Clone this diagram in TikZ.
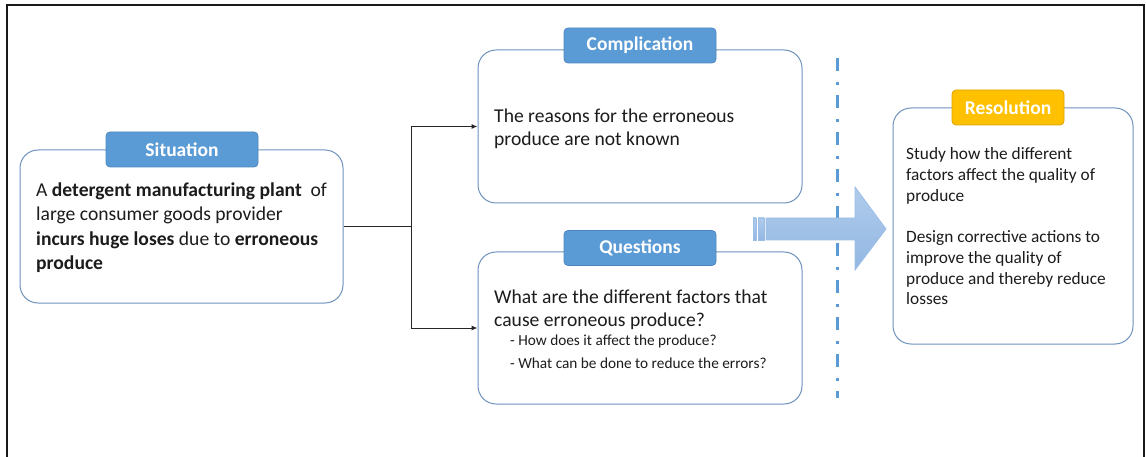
\documentclass[tikz,border=0pt]{standalone}
\usepackage{fontspec}
\setmainfont{Carlito}
\usetikzlibrary{arrows.meta,calc}

\definecolor{panelline}{HTML}{6E93BF}
\definecolor{tagblue}{HTML}{5B9BD5}
\definecolor{tagblueline}{HTML}{4F88C0}
\definecolor{taggold}{HTML}{FFC000}
\definecolor{taggoldline}{HTML}{D9A400}
\definecolor{sepblue}{HTML}{5B9BD5}
\definecolor{arrowtop}{HTML}{B0CCEC}
\definecolor{arrowbot}{HTML}{92B7E3}
\definecolor{arrowline}{HTML}{9CBEE6}
\definecolor{bodytext}{HTML}{1C1C1C}

\begin{document}
\begin{tikzpicture}[x=1pt,y=-1pt,
  panel/.style={draw=panelline, line width=1pt, rounded corners=18pt, fill=white,
    rectangle, inner sep=0pt},
  tag/.style={draw=tagblueline, line width=0.8pt, fill=tagblue, rounded corners=4pt,
    text=white, font=\fontsize{19.5}{22}\selectfont\bfseries,
    minimum width=152pt, minimum height=35pt, inner sep=0pt},
  goldtag/.style={tag, draw=taggoldline, fill=taggold, minimum width=112pt},
  bigtext/.style={anchor=north west, inner sep=0pt, align=left, text=bodytext,
    font=\fontsize{19.6}{24.3}\selectfont},
  midtext/.style={anchor=north west, inner sep=0pt, align=left, text=bodytext,
    font=\fontsize{19.6}{22.6}\selectfont},
  smalltext/.style={anchor=north west, inner sep=0pt, align=left, text=bodytext,
    font=\fontsize{15.3}{23}\selectfont},
  restext/.style={anchor=north west, inner sep=0pt, align=left, text=bodytext,
    font=\fontsize{17.3}{20.7}\selectfont},
  link/.style={draw=black!85, line width=1pt},
  linkarrow/.style={link, -{Latex[length=6pt,width=5pt]}},
]
\useasboundingbox (0,0) rectangle (1146,457);

% outer frame, open at the bottom
\draw[line width=2pt, black!90] (7,457) -- (7,5) -- (1144,5) -- (1144,457);

% panels
\node[panel, minimum width=323pt, minimum height=153pt] (sit)  at (181.5,226.5) {};
\node[panel, minimum width=324pt, minimum height=153pt] (comp) at (640,126.5) {};
\node[panel, minimum width=324pt, minimum height=152pt] (ques) at (640,328) {};
\node[panel, minimum width=240pt, minimum height=236pt] (res)  at (1013,226) {};

% headings
\node[tag] (sitTag)  at (182,149.5) {Situation};
\node[tag] (compTag) at (640,45.5) {Complication};
\node[tag] (quesTag) at (640,248) {Questions};
\node[goldtag] (resTag) at (1008,107.5) {Resolution};

% panel texts
\node[bigtext] (sitText) at (36,182.5)
  {A \textbf{detergent manufacturing plant}\ \ of\\
   large consumer goods provider\\
   \textbf{incurs huge loses} due to \textbf{erroneous}\\
   \textbf{produce}};
\node[midtext] (compText) at (494,108.8)
  {The reasons for the erroneous\\
   produce are not known};
\node[midtext] (quesText) at (494,289.8)
  {What are the different factors that\\
   cause erroneous produce?};
\node[smalltext] (quesSub) at (510,335)
  {- How does it affect the produce?\\
   - What can be done to reduce the errors?};
\node[restext] (resText) at (906,147.6)
  {Study how the different\\
   factors affect the quality of\\
   produce\\[20.7pt]
   Design corrective actions to\\
   improve the quality of\\
   produce and thereby reduce\\
   losses};

% connectors from the situation to complication and questions
\coordinate (fork) at (411,226.5);
\draw[link] (sit.east) -- (fork);
\draw[linkarrow] (fork) |- (comp.west);
\draw[linkarrow] (fork) |- (ques.west);

% dash-dot separator
\coordinate (sepTop) at (837,58);
\coordinate (sepBot) at (837,398);
\draw[sepblue, line width=3pt, dash pattern=on 13pt off 11pt on 3pt off 10pt]
  (sepTop) -- (sepBot);

% block arrow towards the resolution
\path[draw=arrowline, line width=0.8pt, top color=arrowtop, bottom color=arrowbot]
  (766,218) -- (855,218) -- (855,187) -- (886,229) -- (855,270) -- (855,240)
  -- (766,240) -- cycle;
\path[draw=arrowline, line width=0.6pt, top color=arrowtop, bottom color=arrowbot]
  (753,218) rectangle (756,240);
\path[draw=arrowline, line width=0.6pt, top color=arrowtop, bottom color=arrowbot]
  (758,218) rectangle (764,240);
\end{tikzpicture}
\end{document}
